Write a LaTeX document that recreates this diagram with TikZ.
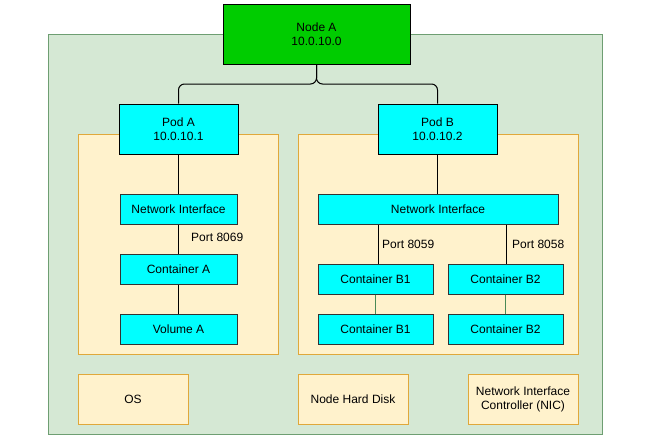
\documentclass[tikz,border=0pt]{standalone}
\usepackage{fontspec}
\setmainfont{Liberation Sans}
\begin{document}
\begin{tikzpicture}[x=1pt,y=-1pt,
  font=\fontsize{12}{14}\selectfont,
  greenbox/.style={draw=grnS,fill=grnF,line width=1pt},
  orangebox/.style={draw=orgS,fill=orgF,line width=1pt},
  cyanbox/.style={draw=black!80,fill=cyanF,line width=1pt,align=center,inner sep=0pt},
  bigcyan/.style={draw=black,fill=cyanF,line width=1pt,align=center,inner sep=0pt},
  basebox/.style={draw=orgS,fill=orgF,line width=1pt,align=center,inner sep=0pt},
  link/.style={draw=black,line width=1pt},
  glink/.style={draw=grnL,line width=1.8pt},
  portlbl/.style={inner sep=0pt,anchor=west}
]
\definecolor{grnF}{HTML}{D5E8D4}
\definecolor{grnS}{HTML}{6E9E72}
\definecolor{grnL}{HTML}{4A8A55}
\definecolor{orgF}{HTML}{FFF2CC}
\definecolor{orgS}{HTML}{E0A83A}
\definecolor{cyanF}{HTML}{00FFFF}
\definecolor{nodeF}{HTML}{00CC00}
\useasboundingbox (0,0) rectangle (655,440);
% outer node region
\path[greenbox] (48,34) rectangle (602,434);
% pod regions
\path[orangebox] (78,134) rectangle (278,354);
\path[orangebox] (298,134) rectangle (578,354);
% Node A
\node[bigcyan,fill=nodeF,minimum width=187pt,minimum height=60pt] (nodeA) at (316.5,34) {Node A\\10.0.10.0};
% Pods
\node[bigcyan,minimum width=119pt,minimum height=50pt] (podA) at (178.5,129) {Pod A\\10.0.10.1};
\node[bigcyan,minimum width=119pt,minimum height=50pt] (podB) at (437.5,129) {Pod B\\10.0.10.2};
% Pod A contents
\node[cyanbox,minimum width=117pt,minimum height=30pt] (niA) at (178.5,209) {Network Interface};
\node[cyanbox,minimum width=117pt,minimum height=30pt] (contA) at (178.5,269) {Container A};
\node[cyanbox,minimum width=117pt,minimum height=30pt] (volA) at (178.5,329) {Volume A};
% Pod B contents
\node[cyanbox,minimum width=240pt,minimum height=30pt] (niB) at (438,209) {Network Interface};
\node[cyanbox,minimum width=115pt,minimum height=30pt] (b1) at (375.5,279) {Container B1};
\node[cyanbox,minimum width=115pt,minimum height=30pt] (b2) at (505.5,279) {Container B2};
\node[cyanbox,minimum width=115pt,minimum height=30pt] (b1l) at (375.5,329) {Container B1};
\node[cyanbox,minimum width=115pt,minimum height=30pt] (b2l) at (505.5,329) {Container B2};
% base boxes
\node[basebox,minimum width=110pt,minimum height=50pt] (os) at (133,399) {OS};
\node[basebox,minimum width=110pt,minimum height=50pt] (hd) at (353,399) {Node Hard Disk};
\node[basebox,minimum width=110pt,minimum height=50pt] (nic) at (523,399) {Network Interface\\Controller (NIC)};
% connectors
\coordinate (split) at (316.5,84);
\draw[link,rounded corners=6pt] (nodeA.south) -- (split) -| (podA.north);
\draw[link,rounded corners=6pt] (nodeA.south) -- (split) -| (podB.north);
\draw[link] (podA.south) -- (niA.north);
\draw[link] (niA.south) -- (contA.north);
\draw[link] (contA.south) -- (volA.north);
\draw[link] (podB.south) -- (podB.south |- niB.north);
\draw[link] (niB.south -| 378,0) -- (b1.north -| 378,0);
\draw[link] (niB.south -| 506,0) -- (b2.north -| 506,0);
\draw[glink] (b1.south) -- (b1l.north);
\draw[glink] (b2.south) -- (b2l.north);
% port labels
\node[portlbl] (p8069) at (191,237) {Port 8069};
\node[portlbl] (p8059) at (382,244) {Port 8059};
\node[portlbl] (p8058) at (512,244) {Port 8058};
\end{tikzpicture}
\end{document}
